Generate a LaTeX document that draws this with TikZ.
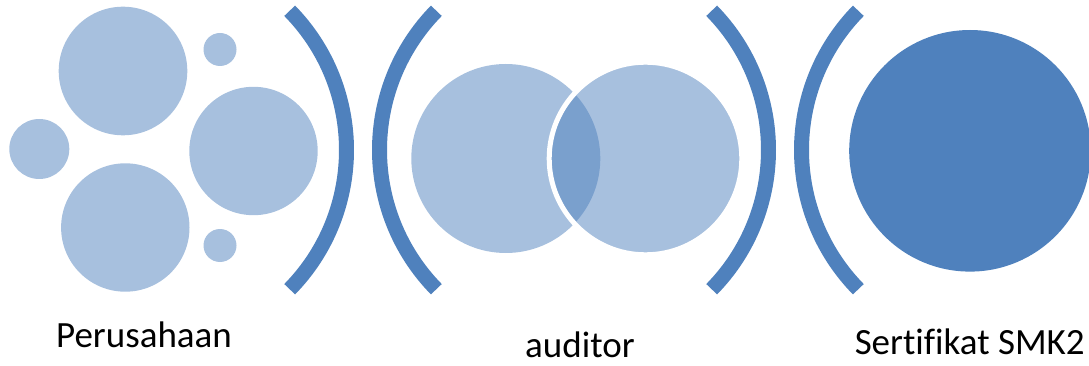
\documentclass[tikz,border=0pt]{standalone}
\usepackage{fontspec}
\setmainfont[Ligatures=NoCommon]{Carlito}
\definecolor{accent}{HTML}{4F81BD}
\definecolor{lightacc}{HTML}{A7C0DE}
\begin{document}
\begin{tikzpicture}[x=1pt,y=-1pt,
  bubble/.style={circle,fill=lightacc,inner sep=0pt,outer sep=0pt},
  venn/.style={circle,fill=accent,fill opacity=0.5,inner sep=0pt,outer sep=0pt},
  bracket/.style={draw=accent,line width=15pt},
  lbl/.style={anchor=base,inner sep=0pt,text depth=0pt,font=\fontsize{37}{44}\selectfont}]
\useasboundingbox (0,0) rectangle (1089,366);
% left group
\node[bubble,minimum size=128.6pt] (b1) at (123,71) {};
\node[bubble,minimum size=33pt] (b2) at (220,49.5) {};
\node[bubble,minimum size=60pt] (b3) at (39.3,149) {};
\node[bubble,minimum size=128.4pt] (b4) at (253.5,151) {};
\node[bubble,minimum size=128.4pt] (b5) at (125.3,227.5) {};
\node[bubble,minimum size=33pt] (b6) at (220,245.5) {};
% brackets
\coordinate (k1) at (147.5,150);
\coordinate (k2) at (578.5,150);
\coordinate (k3) at (569.5,150);
\coordinate (k4) at (1000.5,150);
\draw[bracket] (k1) ++(-44.4:199) arc[start angle=-44.4,end angle=44.4,radius=199];
\draw[bracket] (k2) ++(135.6:199) arc[start angle=135.6,end angle=224.4,radius=199];
\draw[bracket] (k3) ++(-44.4:199) arc[start angle=-44.4,end angle=44.4,radius=199];
\draw[bracket] (k4) ++(135.6:199) arc[start angle=135.6,end angle=224.4,radius=199];
% venn
\node[venn,minimum size=189pt] (v1) at (505.8,158.5) {};
\node[venn,minimum size=192.6pt,draw=white,draw opacity=1,line width=5pt] (v2) at (645.5,158.5) {};
% certificate
\node[circle,fill=accent,inner sep=0pt,minimum size=241.6pt] (cert) at (970,150.8) {};
% labels
\node[lbl] (t1) at (144,347.7) {Perusahaan};
\node[lbl] (t2) at (580,357) {auditor};
\node[lbl] (t3) at (969.7,354.3) {Sertifikat SMK2};
\end{tikzpicture}
\end{document}
